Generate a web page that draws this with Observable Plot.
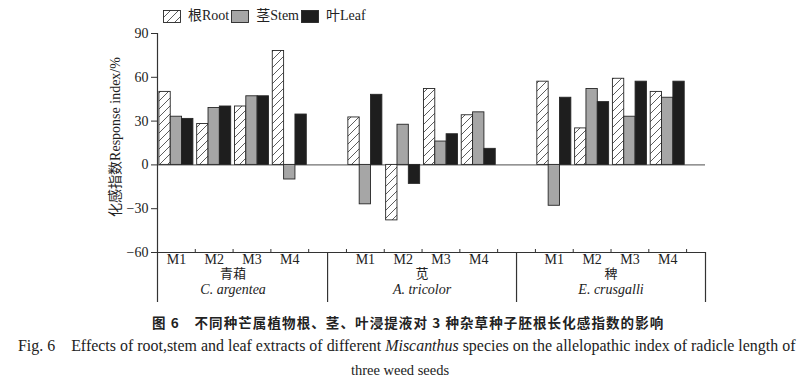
<!DOCTYPE html>
<html>
<head>
<meta charset="utf-8">
<script src="https://cdn.jsdelivr.net/npm/d3@7"></script>
<script src="https://cdn.jsdelivr.net/npm/@observablehq/plot@0.6"></script>
<style>
  html, body { margin: 0; padding: 0; background: #fff; }
  body { width: 800px; height: 383px; overflow: hidden; color: #222;
         font-family: "Liberation Serif", "Times New Roman", "Noto Sans CJK SC", serif; }
  #legendWrap { position: relative; height: 20px; }
  #legend { position: absolute; left: 163px; top: 8px; display: flex; align-items: center; font-size: 14px; line-height: 16px; white-space: nowrap; }
  #legend .sw { display: block; box-sizing: border-box; }
  #legend .lab { margin-left: 7px; margin-right: 2px; }
  #chart svg { display: block; overflow: visible; }
  .cap { white-space: nowrap; line-height: 24px; height: 24px; }
  #capZh { font-family: "Noto Sans CJK SC", sans-serif; font-weight: bold; font-size: 13.5px; padding-left: 152px; letter-spacing: 1.1px; }
  #capEn { font-size: 14.5px; padding-left: 18px; }
  #capEn2 { font-size: 14.5px; text-align: center; }
</style>
</head>
<body>
<div id="legendWrap"><div id="legend"></div></div>
<div id="chart"></div>
<div class="cap" id="capZh">图 6　不同种芒属植物根、茎、叶浸提液对 3 种杂草种子胚根长化感指数的影响</div>
<div class="cap" id="capEn"><span id="capEnInner">Fig. 6&nbsp;&nbsp;&nbsp; Effects of root,stem and leaf extracts of different <i>Miscanthus</i> species on the allelopathic index of radicle length of</span></div>
<div class="cap" id="capEn2">three weed seeds</div>
<script>
// ---- data ----
const groupsZh = ["青葙", "苋", "稗"];
const groupsLatin = ["C. argentea", "A. tricolor", "E. crusgalli"];
const extracts = ["M1", "M2", "M3", "M4"];
const parts = ["根Root", "茎Stem", "叶Leaf"];
// values per group (C. argentea M1-M4, A. tricolor M1-M4, E. crusgalli M1-M4)
const rootValues = [50, 28, 40, 78, 32.5, -38, 52, 34, 57, 25, 59, 50];
const stemValues = [33, 39, 47, -10, -27, 27.5, 16, 36, -28, 52, 33, 46];
const leafValues = [31.5, 40, 47, 34.5, 48, -13, 21, 11, 46, 43, 57, 57];
const yTicks = [90, 60, 30, 0, -30, -60];
const yLabel = "化感指数Response index/%";

// ---- styles ----
const fills = ["url(#hatch)", "#a6a6a6", "#1e1e1e"];
const serif = "'Liberation Serif', 'Times New Roman', 'Noto Sans CJK SC', serif";

// ---- derived layout ----
const series = [rootValues, stemValues, leafValues];
const slotsPerGroup = extracts.length + 1;
const barOff = 0.05, barW = 0.3;
const bars = [];
const mLabels = [];
groupsZh.forEach((g, gi) => extracts.forEach((m, mi) => {
  const slot = gi * slotsPerGroup + mi;
  mLabels.push({text: m, x: slot + 0.5});
  parts.forEach((p, pi) => {
    bars.push({group: g, extract: m, part: p, pi,
      value: series[pi][gi * extracts.length + mi],
      x1: slot + barOff + pi * barW, x2: slot + barOff + (pi + 1) * barW});
  });
}));
const xMax = groupsZh.length * slotsPerGroup - 0.5;
const groupLabels = groupsZh.map((g, gi) => ({zh: g, la: groupsLatin[gi], x: gi * slotsPerGroup + extracts.length / 2}));
const boundaryTicks = d3.range(1, xMax);
const separators = [0, ...groupsZh.slice(1).map((g, i) => (i + 1) * slotsPerGroup - 0.5), xMax];

const chart = Plot.plot({
  width: 800, height: 290,
  marginLeft: 157, marginRight: 95, marginTop: 13, marginBottom: 58,
  x: {type: "linear", domain: [0, xMax]},
  y: {domain: [-60, 90]},
  style: `font-family: ${serif}; font-size: 14px; color: #222; background: transparent; overflow: visible;`,
  marks: [
    Plot.ruleY([0], {stroke: "#707070", strokeWidth: 1.3}),
    ...parts.map((p, pi) => Plot.rectY(bars.filter(d => d.pi === pi), {
      x1: "x1", x2: "x2", y1: 0, y2: "value", fill: fills[pi], stroke: "#262626", strokeWidth: 0.9
    })),
    Plot.ruleY([-60], {stroke: "#333", strokeWidth: 1.2}),
    Plot.ruleX([0], {y1: 90, y2: -60, stroke: "#333", strokeWidth: 1.2}),
    Plot.axisY(yTicks, {tickSize: 6, tickPadding: 3, fontSize: 14, fontFamily: serif, label: null, stroke: "#333"}),
    Plot.axisX(boundaryTicks, {tickSize: -3, tickFormat: () => "", label: null, stroke: "#333"}),
    Plot.axisX(separators, {tickSize: 50, tickFormat: () => "", label: null, stroke: "#333", strokeWidth: 1.2}),
    Plot.text(mLabels, {x: "x", text: "text", frameAnchor: "bottom", dy: 11, fontSize: 14, fontFamily: serif}),
    Plot.text(groupLabels, {x: "x", text: "zh", frameAnchor: "bottom", dy: 25, fontSize: 13, fontFamily: serif}),
    Plot.text(groupLabels, {x: "x", text: "la", frameAnchor: "bottom", dy: 41, fontSize: 14, fontStyle: "italic", fontFamily: serif}),
    Plot.text([yLabel], {text: d => d, frameAnchor: "left", textAnchor: "middle", rotate: -90, dx: -42, dy: -6, fontSize: 14, fontFamily: serif})
  ]
});

// hatch pattern
const NS = "http://www.w3.org/2000/svg";
function makePattern(id) {
  const pat = document.createElementNS(NS, "pattern");
  pat.setAttribute("id", id);
  pat.setAttribute("patternUnits", "userSpaceOnUse");
  pat.setAttribute("width", 8);
  pat.setAttribute("height", 8);
  const bg = document.createElementNS(NS, "rect");
  bg.setAttribute("width", 8); bg.setAttribute("height", 8); bg.setAttribute("fill", "#fff");
  const path = document.createElementNS(NS, "path");
  path.setAttribute("d", "M0,8L8,0M-2,2L2,-2M6,10L10,6");
  path.setAttribute("stroke", "#333");
  path.setAttribute("stroke-width", "0.8");
  pat.appendChild(bg); pat.appendChild(path);
  return pat;
}
const defs = document.createElementNS(NS, "defs");
defs.appendChild(makePattern("hatch"));
chart.insertBefore(defs, chart.firstChild);
document.getElementById("chart").appendChild(chart);

// legend
const legend = document.getElementById("legend");
parts.forEach((p, pi) => {
  const sw = document.createElementNS(NS, "svg");
  sw.setAttribute("width", 18); sw.setAttribute("height", 13);
  sw.setAttribute("class", "sw");
  if (pi === 0) { const d = document.createElementNS(NS, "defs"); d.appendChild(makePattern("hatchL")); sw.appendChild(d); }
  const r = document.createElementNS(NS, "rect");
  r.setAttribute("x", 0.5); r.setAttribute("y", 0.5); r.setAttribute("width", 17); r.setAttribute("height", 12);
  r.setAttribute("fill", pi === 0 ? "url(#hatchL)" : fills[pi]);
  r.setAttribute("stroke", "#262626"); r.setAttribute("stroke-width", 0.9);
  sw.appendChild(r);
  legend.appendChild(sw);
  const t = document.createElement("span");
  t.className = "lab"; t.textContent = p;
  legend.appendChild(t);
});

// fit English caption line to its width in the reference
const inner = document.getElementById("capEnInner");
const w = inner.getBoundingClientRect().width;
if (w > 0) document.getElementById("capEn").style.fontSize = (14.5 * 778 / w) + "px";
</script>
</body>
</html>
